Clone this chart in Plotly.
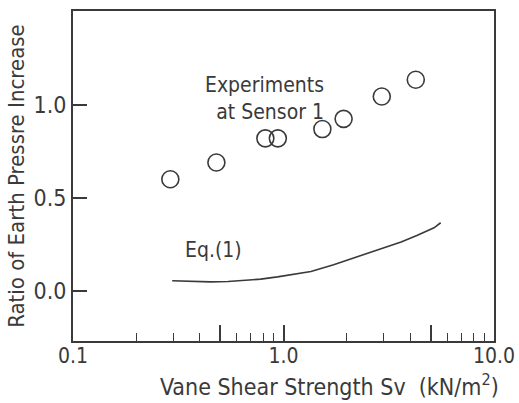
import math
import plotly.graph_objects as go

# Experimental data (Experiments at Sensor 1)
exp_sv = [0.29, 0.48, 0.82, 0.94, 1.53, 1.93, 2.93, 4.25]
exp_ratio = [0.60, 0.69, 0.82, 0.82, 0.87, 0.925, 1.045, 1.135]

# Eq.(1) curve
eq_sv = [0.296, 0.37, 0.449, 0.545, 0.645, 0.78, 0.936, 1.13, 1.35, 1.73, 2.1, 2.53, 3.0, 3.62, 4.3, 5.19, 5.58]
eq_ratio = [0.054, 0.050, 0.048, 0.050, 0.055, 0.063, 0.075, 0.088, 0.104, 0.140, 0.172, 0.204, 0.232, 0.263, 0.298, 0.339, 0.366]

x_major = [0.1, 0.5, 1, 5, 10]
x_major_text = ["0.1", "", "1.0", "", "10.0"]
x_minor = [0.2, 0.3, 0.4, 0.6, 0.7, 0.8, 0.9, 2, 3, 4, 6, 7, 8, 9]
y_ticks = [0.0, 0.5, 1.0]
y_tick_text = ["0.0", "0.5", "1.0"]

FONT = "DejaVu Sans Condensed, Liberation Sans Narrow, sans-serif"
INK = "#3a3a3a"

fig = go.Figure()
fig.add_trace(go.Scatter(
    x=eq_sv, y=eq_ratio, mode="lines",
    line=dict(color=INK, width=1.6),
    showlegend=False, hoverinfo="skip"))
fig.add_trace(go.Scatter(
    x=exp_sv, y=exp_ratio, mode="markers",
    marker=dict(symbol="circle-open", size=17, color=INK, line=dict(width=1.6, color=INK)),
    showlegend=False))

fig.add_annotation(x=math.log10(1.6), y=1.035, xref="x", yref="y", xanchor="right", yanchor="middle",
                   align="right", text="Experiments<br>at Sensor 1", showarrow=False,
                   font=dict(family=FONT, size=21, color=INK))
fig.add_annotation(x=math.log10(0.465), y=0.22, xref="x", yref="y", xanchor="center", yanchor="middle",
                   text="Eq.(1)", showarrow=False, font=dict(family=FONT, size=21, color=INK))
fig.add_annotation(x=0.61, y=-0.134, xref="paper", yref="paper", xanchor="center", yanchor="middle",
                   text="Vane Shear Strength Sv  (kN/m<sup>2</sup>)", showarrow=False,
                   font=dict(family=FONT, size=23, color=INK))

fig.update_layout(
    width=519, height=403,
    margin=dict(l=73, r=25, t=11, b=62),
    paper_bgcolor="white", plot_bgcolor="white",
    font=dict(family=FONT, color=INK),
    xaxis=dict(
        type="log", range=[-1, 1], automargin=False,
        tickmode="array", tickvals=x_major, ticktext=x_major_text,
        ticks="inside", ticklen=16, tickwidth=1.5, tickcolor=INK,
        minor=dict(tickmode="array", tickvals=x_minor, ticks="inside", ticklen=8,
                   tickwidth=1.2, tickcolor=INK, showgrid=False),
        showline=True, linewidth=2, linecolor=INK, mirror=True,
        showgrid=False, zeroline=False,
        ticklabelstandoff=-5,
        tickfont=dict(family=FONT, size=21, color=INK),
    ),
    yaxis=dict(
        range=[-0.27, 1.505], automargin=False,
        tickmode="array", tickvals=y_ticks, ticktext=y_tick_text,
        ticks="inside", ticklen=14, tickwidth=1.5, tickcolor=INK,
        showline=True, linewidth=2, linecolor=INK, mirror=True,
        showgrid=False, zeroline=False,
        tickfont=dict(family=FONT, size=23, color=INK),
        title=dict(text="Ratio of Earth Pressre Increase",
                   font=dict(family=FONT, size=22, color=INK), standoff=3),
    ),
)

fig.write_html("out.html")
